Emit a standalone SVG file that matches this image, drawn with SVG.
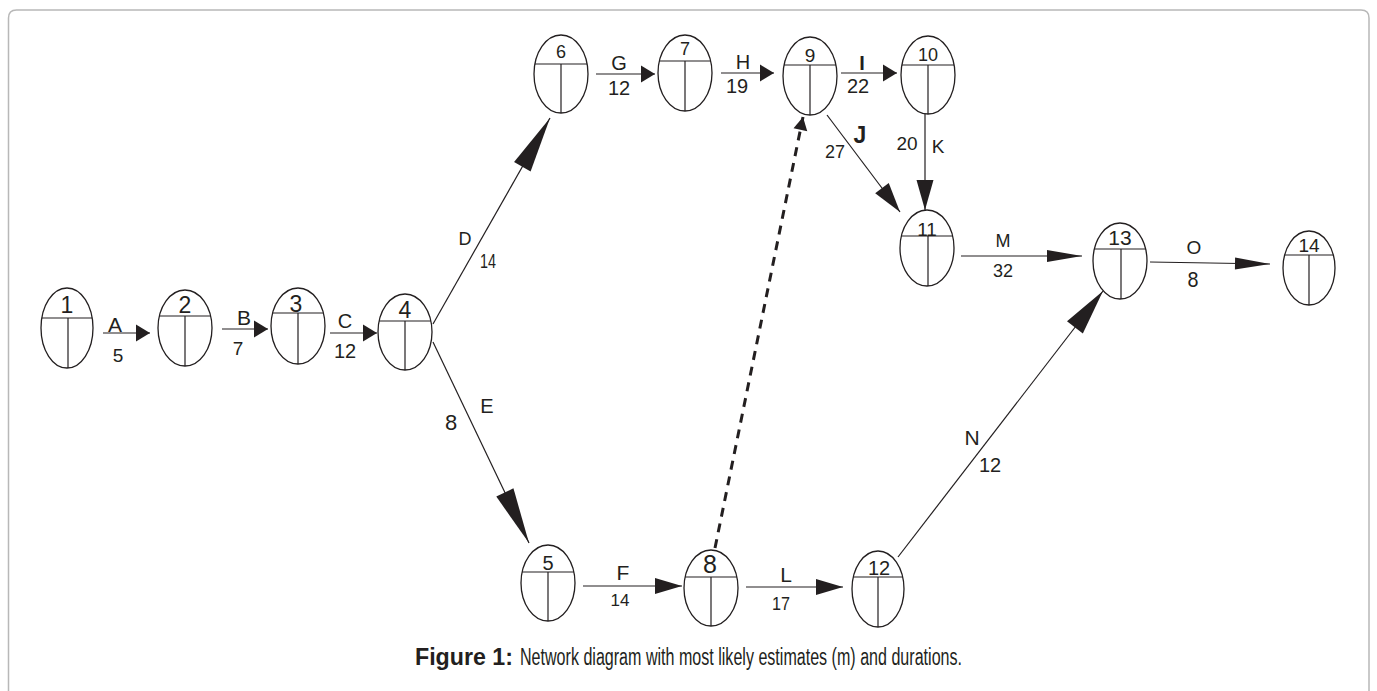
<svg xmlns="http://www.w3.org/2000/svg" width="1377" height="691" viewBox="0 0 1377 691">
<style>
.bg{fill:#fff}
.frame{fill:none;stroke:#b8b8b8;stroke-width:1.5}
.node ellipse{fill:#fff;stroke:#231f20;stroke-width:1.3}
.node line{stroke:#231f20;stroke-width:1.2}
.nl{font-family:"Liberation Sans",Arial,sans-serif;fill:#231f20;text-anchor:middle}
.c{stroke:#231f20;stroke-width:1.2;fill:none}
.dash{stroke:#231f20;stroke-width:3;stroke-dasharray:9 7;fill:none}
.lb{font-family:"Liberation Sans",Arial,sans-serif;fill:#231f20;text-anchor:middle}
.cap{font-family:"Liberation Sans",Arial,sans-serif;font-size:23px;fill:#231f20}
</style>
<defs>
<marker id="ahS" markerUnits="userSpaceOnUse" markerWidth="14" markerHeight="17" refX="14" refY="8.5" orient="auto" overflow="visible"><path d="M0,0 L14,8.5 L0,17 Z" fill="#231f20"/></marker>
<marker id="ahM" markerUnits="userSpaceOnUse" markerWidth="27" markerHeight="16" refX="27" refY="8" orient="auto" overflow="visible"><path d="M0,0 L27,8 L0,16 Z" fill="#231f20"/></marker>
<marker id="ahJ" markerUnits="userSpaceOnUse" markerWidth="30" markerHeight="17" refX="30" refY="8.5" orient="auto" overflow="visible"><path d="M0,0 L30,8.5 L0,17 Z" fill="#231f20"/></marker>
<marker id="ahL" markerUnits="userSpaceOnUse" markerWidth="35" markerHeight="12" refX="35" refY="6" orient="auto" overflow="visible"><path d="M0,0 L35,6 L0,12 Z" fill="#231f20"/></marker>
<marker id="ahN" markerUnits="userSpaceOnUse" markerWidth="46" markerHeight="20" refX="46" refY="10" orient="auto" overflow="visible"><path d="M0,0 L46,10 L0,20 Z" fill="#231f20"/></marker>
<marker id="ahX" markerUnits="userSpaceOnUse" markerWidth="56" markerHeight="19" refX="56" refY="9.5" orient="auto" overflow="visible"><path d="M0,0 L56,9.5 L0,19 Z" fill="#231f20"/></marker>
<marker id="ahD" markerUnits="userSpaceOnUse" markerWidth="13" markerHeight="14" refX="13" refY="7" orient="auto" overflow="visible"><path d="M0,0 L13,7 L0,14 Z" fill="#231f20"/></marker>
</defs>
<rect class="bg" x="0" y="0" width="1377" height="691"/>
<path class="frame" d="M8.5,700 V18 Q8.5,10 16.5,10 H1361 Q1369,10 1369,18 V700"/>

<g id="connectors">
<line class="c" x1="103" y1="333" x2="150" y2="333" marker-end="url(#ahS)"/>
<line class="c" x1="222" y1="329" x2="268" y2="329" marker-end="url(#ahS)"/>
<line class="c" x1="330" y1="333" x2="377" y2="333" marker-end="url(#ahS)"/>
<line class="c" x1="433" y1="324" x2="550" y2="118" marker-end="url(#ahX)"/>
<line class="c" x1="433" y1="342" x2="529" y2="543" marker-end="url(#ahX)"/>
<line class="c" x1="596" y1="74" x2="655" y2="74" marker-end="url(#ahS)"/>
<line class="c" x1="721" y1="73" x2="774" y2="73" marker-end="url(#ahS)"/>
<line class="c" x1="841" y1="73" x2="897" y2="73" marker-end="url(#ahS)"/>
<line class="c" x1="827" y1="115" x2="900" y2="212" marker-end="url(#ahJ)"/>
<line class="c" x1="925" y1="114" x2="925" y2="210" marker-end="url(#ahJ)"/>
<line class="c" x1="961" y1="256" x2="1082" y2="256" marker-end="url(#ahL)"/>
<line class="c" x1="1150" y1="262" x2="1270" y2="264" marker-end="url(#ahL)"/>
<line class="c" x1="583" y1="586" x2="682" y2="586" marker-end="url(#ahM)"/>
<line class="c" x1="746" y1="587" x2="843" y2="587" marker-end="url(#ahM)"/>
<line class="c" x1="898" y1="557" x2="1103" y2="291" marker-end="url(#ahN)"/>
<line class="dash" x1="715" y1="548" x2="803" y2="117" marker-end="url(#ahD)"/>

<text class="lb" x="115" y="332" font-size="21">A</text>
<text class="lb" x="118" y="362" font-size="19">5</text>
<text class="lb" x="244" y="325" font-size="21">B</text>
<text class="lb" x="238" y="355" font-size="19">7</text>
<text class="lb" x="345" y="328" font-size="20">C</text>
<text class="lb" x="345" y="358" font-size="20">12</text>
<text class="lb" x="465" y="245" font-size="18">D</text>
<text class="lb" x="488" y="268" font-size="21" textLength="16" lengthAdjust="spacingAndGlyphs">14</text>
<text class="lb" x="487" y="413" font-size="20">E</text>
<text class="lb" x="451" y="430" font-size="22">8</text>
<text class="lb" x="619" y="70" font-size="20">G</text>
<text class="lb" x="619" y="95" font-size="20">12</text>
<text class="lb" x="743" y="69" font-size="20">H</text>
<text class="lb" x="737" y="93" font-size="20">19</text>
<text class="lb" x="862" y="70" font-size="20" font-weight="bold">I</text>
<text class="lb" x="858" y="93" font-size="20">22</text>
<text class="lb" x="860" y="143" font-size="23" font-weight="bold">J</text>
<text class="lb" x="835" y="158" font-size="18">27</text>
<text class="lb" x="907" y="150" font-size="19">20</text>
<text class="lb" x="938" y="153" font-size="19">K</text>
<text class="lb" x="1003" y="247" font-size="18">M</text>
<text class="lb" x="1003" y="277" font-size="18">32</text>
<text class="lb" x="1194" y="254" font-size="19">O</text>
<text class="lb" x="1193" y="287" font-size="22" textLength="11" lengthAdjust="spacingAndGlyphs">8</text>
<text class="lb" x="623" y="580" font-size="21">F</text>
<text class="lb" x="620" y="606" font-size="17">14</text>
<text class="lb" x="786" y="582" font-size="21">L</text>
<text class="lb" x="781" y="610" font-size="19" textLength="18" lengthAdjust="spacingAndGlyphs">17</text>
<text class="lb" x="972" y="445" font-size="21">N</text>
<text class="lb" x="990" y="472" font-size="20">12</text>
</g>

<g id="node1" class="node"><ellipse cx="67" cy="328" rx="26" ry="40"/><line x1="41.8" y1="318" x2="92.2" y2="318"/><line x1="68" y1="318" x2="68" y2="368"/><text class="nl" x="67" y="313" font-size="23">1</text></g>
<g id="node2" class="node"><ellipse cx="185" cy="328" rx="27" ry="38"/><line x1="159.4" y1="316" x2="210.6" y2="316"/><line x1="185" y1="316" x2="185" y2="366"/><text class="nl" x="185" y="313" font-size="23">2</text></g>
<g id="node3" class="node"><ellipse cx="298" cy="326" rx="27" ry="38"/><line x1="272.6" y1="313" x2="323.4" y2="313"/><line x1="298" y1="313" x2="298" y2="364"/><text class="nl" x="296" y="312" font-size="23">3</text></g>
<g id="node4" class="node"><ellipse cx="405" cy="332" rx="27" ry="38"/><line x1="379.2" y1="321" x2="430.8" y2="321"/><line x1="405" y1="321" x2="405" y2="370"/><text class="nl" x="405" y="318" font-size="23">4</text></g>
<g id="node6" class="node"><ellipse cx="561" cy="74" rx="27" ry="39"/><line x1="534.9" y1="64" x2="587.1" y2="64"/><line x1="561" y1="64" x2="561" y2="113"/><text class="nl" x="561" y="58" font-size="18">6</text></g>
<g id="node7" class="node"><ellipse cx="685" cy="73" rx="27" ry="38"/><line x1="659.4" y1="61" x2="710.6" y2="61"/><line x1="685" y1="61" x2="685" y2="111"/><text class="nl" x="685" y="55" font-size="18">7</text></g>
<g id="node9" class="node"><ellipse cx="810" cy="76" rx="27" ry="39"/><line x1="784.1" y1="65" x2="835.9" y2="65"/><line x1="810" y1="65" x2="810" y2="115"/><text class="nl" x="810" y="62" font-size="19">9</text></g>
<g id="node10" class="node"><ellipse cx="928" cy="75" rx="27" ry="39"/><line x1="901.9" y1="65" x2="954.1" y2="65"/><line x1="928" y1="65" x2="928" y2="114"/><text class="nl" x="928" y="61" font-size="18">10</text></g>
<g id="node11" class="node"><ellipse cx="927" cy="248" rx="27" ry="38"/><line x1="901.4" y1="236" x2="952.6" y2="236"/><line x1="928" y1="236" x2="928" y2="286"/><text class="nl" x="927" y="236" font-size="19">11</text></g>
<g id="node13" class="node"><ellipse cx="1120" cy="261" rx="27" ry="38"/><line x1="1094.4" y1="249" x2="1145.6" y2="249"/><line x1="1121" y1="249" x2="1121" y2="299"/><text class="nl" x="1120" y="245" font-size="21">13</text></g>
<g id="node14" class="node"><ellipse cx="1309" cy="268" rx="26" ry="37"/><line x1="1284.7" y1="255" x2="1333.3" y2="255"/><line x1="1309" y1="255" x2="1309" y2="305"/><text class="nl" x="1309" y="252" font-size="19">14</text></g>
<g id="node5" class="node"><ellipse cx="548" cy="583" rx="27" ry="38"/><line x1="522.2" y1="572" x2="573.8" y2="572"/><line x1="548" y1="572" x2="548" y2="621"/><text class="nl" x="548" y="570" font-size="20">5</text></g>
<g id="node8" class="node"><ellipse cx="711" cy="588" rx="27" ry="38"/><line x1="685.2" y1="577" x2="736.8" y2="577"/><line x1="711" y1="577" x2="711" y2="626"/><text class="nl" x="710" y="573" font-size="25">8</text></g>
<g id="node12" class="node"><ellipse cx="878" cy="589" rx="26" ry="38"/><line x1="853.3" y1="577" x2="902.7" y2="577"/><line x1="878" y1="577" x2="878" y2="627"/><text class="nl" x="879" y="575" font-size="20">12</text></g>

<text class="cap" x="415" y="665" font-weight="bold" textLength="98" lengthAdjust="spacingAndGlyphs">Figure 1:</text>
<text class="cap" x="520" y="665" textLength="442" lengthAdjust="spacingAndGlyphs">Network diagram with most likely estimates (m) and durations.</text>
</svg>
